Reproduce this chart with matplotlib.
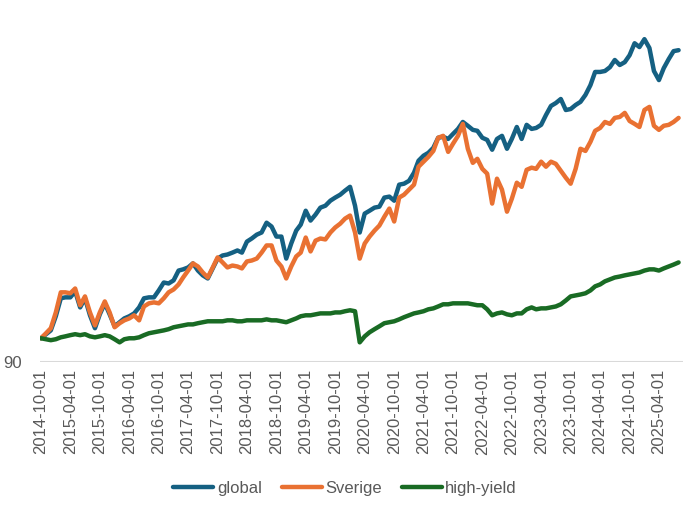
import pandas as pd
import matplotlib
matplotlib.use('Agg')
import matplotlib.pyplot as plt

# index values, monthly from 2014-10-01 (start = 100)
dates = pd.date_range('2014-10-01', periods=131, freq='MS')

global_idx = [
    100.0, 101.7, 103.3, 109.2, 116.7, 117.1, 117.1, 119.6, 112.9, 116.7,
    109.6, 104.2, 110.0, 114.6, 110.0, 105.0, 106.7, 108.3, 109.2, 110.4,
    112.9, 116.7, 117.1, 117.1, 120.0, 123.3, 122.9, 124.2, 128.3, 128.8,
    129.6, 131.3, 128.3, 126.3, 125.0, 129.2, 133.3, 134.6, 135.0, 135.8,
    136.7, 135.8, 140.4, 141.7, 143.3, 144.2, 148.3, 146.7, 142.5, 142.5,
    133.3, 139.6, 145.0, 147.5, 153.3, 149.2, 151.7, 154.6, 155.4, 157.5,
    158.8, 160.0, 161.7, 163.3, 155.4, 144.2, 152.1, 153.3, 154.6, 155.0,
    158.8, 159.2, 157.5, 164.2, 164.6, 165.8, 169.2, 174.2, 176.3, 177.5,
    179.6, 183.8, 184.2, 183.3, 185.4, 187.5, 190.4, 188.8, 187.1, 186.7,
    183.8, 182.9, 178.8, 183.3, 184.6, 179.2, 183.3, 188.3, 183.3, 189.2,
    187.5, 187.9, 189.2, 193.3, 197.1, 198.3, 200.0, 195.4, 195.8, 197.5,
    198.8, 201.7, 205.8, 211.3, 211.3, 211.7, 213.3, 216.3, 214.2, 215.4,
    218.3, 223.3, 221.7, 225.0, 221.3, 211.7, 207.9, 212.9, 216.7, 220.0,
    220.4,
]

sverige = [
    100.0, 102.1, 104.2, 110.8, 119.2, 119.2, 118.8, 120.8, 113.8, 117.5,
    110.8, 105.4, 110.8, 115.4, 110.8, 104.6, 106.3, 107.5, 108.3, 109.6,
    107.5, 113.3, 114.6, 115.0, 114.6, 116.7, 119.2, 120.4, 122.5, 125.4,
    128.3, 131.3, 130.0, 127.5, 125.4, 129.6, 133.8, 131.7, 129.6, 130.4,
    130.0, 129.2, 132.1, 132.5, 133.3, 135.8, 138.8, 138.8, 132.5, 130.0,
    125.0, 130.0, 134.2, 135.8, 142.1, 136.3, 140.8, 141.7, 141.3, 144.2,
    146.3, 147.9, 150.0, 151.3, 144.2, 133.3, 139.6, 142.5, 145.0, 147.1,
    150.8, 154.2, 148.8, 158.8, 160.0, 162.1, 164.2, 171.7, 173.8, 175.8,
    178.3, 183.8, 184.6, 177.9, 181.3, 184.6, 189.6, 179.2, 173.3, 175.0,
    170.8, 168.8, 156.3, 166.7, 162.1, 152.9, 158.3, 165.0, 163.3, 170.4,
    171.3, 170.8, 173.8, 171.7, 173.8, 172.9, 170.0, 167.1, 164.6, 170.8,
    179.2, 178.3, 182.1, 186.7, 187.9, 190.4, 189.6, 192.1, 192.5, 194.2,
    190.8, 189.6, 188.3, 195.4, 196.7, 188.8, 187.1, 188.8, 189.2, 190.4,
    192.1,
]

high_yield = [
    100.0, 99.6, 99.2, 99.6, 100.4, 100.8, 101.3, 101.7, 101.3, 101.7,
    100.8, 100.4, 100.8, 101.3, 100.8, 99.6, 98.3, 99.6, 100.0, 100.0,
    100.4, 101.3, 102.1, 102.5, 102.9, 103.3, 103.8, 104.6, 105.0, 105.4,
    105.8, 105.8, 106.3, 106.7, 107.1, 107.1, 107.1, 107.1, 107.5, 107.5,
    107.1, 107.1, 107.5, 107.5, 107.5, 107.5, 107.9, 107.5, 107.5, 107.1,
    106.7, 107.5, 108.3, 109.2, 109.6, 109.6, 110.0, 110.4, 110.4, 110.4,
    110.8, 110.8, 111.3, 111.7, 111.3, 98.3, 100.8, 102.5, 103.8, 105.0,
    106.3, 106.7, 107.1, 107.9, 108.8, 109.6, 110.4, 110.8, 111.3, 112.1,
    112.5, 113.3, 114.2, 114.2, 114.6, 114.6, 114.6, 114.6, 114.2, 113.8,
    113.8, 112.1, 109.6, 110.4, 110.8, 110.0, 109.6, 110.4, 110.4, 112.1,
    112.9, 112.1, 112.5, 112.5, 112.9, 113.3, 114.2, 115.8, 117.5, 117.9,
    118.3, 118.8, 120.0, 121.7, 122.5, 123.8, 124.6, 125.4, 125.8, 126.3,
    126.7, 127.1, 127.5, 128.3, 128.8, 128.8, 128.3, 129.2, 130.0, 130.8,
    131.7,
]

series_names = ['global', 'Sverige', 'high-yield']
colors = ['#156082', '#E97132', '#196B24']

plt.rcParams['font.family'] = ['Liberation Sans', 'DejaVu Sans']
text_grey = '#595959'

fig = plt.figure(figsize=(6.9, 5.08), dpi=100)
ax = fig.add_axes([0.058, 0.287, 0.932, 0.683])

for vals, name, col in zip([global_idx, sverige, high_yield], series_names, colors):
    ax.plot(dates, vals, color=col, lw=3.2, label=name,
            solid_joinstyle='round', solid_capstyle='round')

ax.set_ylim(90, 235)
ax.set_yticks([90])
ax.set_yticklabels(['90'])
ax.axhline(90, color='#D9D9D9', lw=1.5, zorder=0)

ax.set_xlim(dates[0] - pd.Timedelta(days=6), dates[-1] + pd.Timedelta(days=28))
ticks = dates[::6]
ax.set_xticks(ticks)
ax.set_xticklabels([d.strftime('%Y-%m-%d') for d in ticks], rotation=90)

ax.tick_params(axis='x', length=0, pad=5, labelsize=12, labelcolor=text_grey)
ax.tick_params(axis='y', length=0, pad=13, labelsize=12, labelcolor=text_grey)
for s in ax.spines.values():
    s.set_visible(False)

fig.legend(loc='center', bbox_to_anchor=(0.5, 0.039), ncol=3, frameon=False,
           fontsize=12, labelcolor=text_grey, handlelength=2.4,
           handletextpad=0.2, columnspacing=1.2)

fig.savefig('out.png', dpi=100)
